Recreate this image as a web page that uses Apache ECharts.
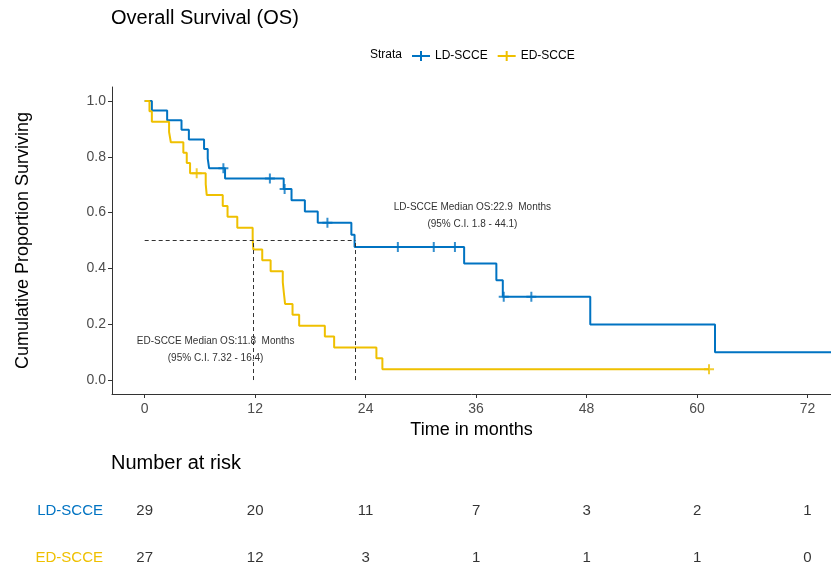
<!DOCTYPE html>
<html>
<head>
<meta charset="utf-8">
<script src="https://cdn.jsdelivr.net/npm/echarts@6/dist/echarts.min.js"></script>
<style>html,body{margin:0;padding:0;background:#fff}#c{width:831px;height:567px}</style>
</head>
<body>
<div id="c"></div>
<script>
// ---- data ----
const groups = ['LD-SCCE', 'ED-SCCE'];
const colors = ['#0073C2', '#EFC000'];
// Kaplan-Meier steps: [time (months), survival]
const ldCurve = [[0,1],[0.78,0.9655],[2.44,0.9310],[4.0,0.8966],[4.8,0.8621],[6.45,0.8276],[6.85,0.7931],[7.0,0.7586],[8.73,0.7225],[15.1,0.6845],[15.95,0.6442],[17.4,0.6040],[18.8,0.5637],[22.45,0.5203],[22.8,0.4770],[34.7,0.4174],[38.2,0.3577],[38.9,0.2981],[48.4,0.1987],[61.95,0.0994],[74.55,0.0994]];
const ldCensor = [[8.55,0.7586],[13.6,0.7225],[15.2,0.6845],[19.85,0.5637],[27.5,0.4770],[31.4,0.4770],[33.7,0.4770],[39.0,0.2981],[42.0,0.2981]];
const edCurve = [[0,1],[0.52,0.9630],[0.78,0.9259],[2.65,0.8889],[2.84,0.8519],[4.2,0.8148],[4.57,0.7778],[4.93,0.7407],[6.63,0.7018],[6.74,0.6628],[8.48,0.6238],[9.0,0.5848],[10.06,0.5458],[11.73,0.5068],[11.8,0.4678],[12.77,0.4288],[13.68,0.3899],[15.0,0.3509],[15.12,0.3119],[15.25,0.2729],[16.06,0.2339],[16.78,0.1949],[19.57,0.1559],[20.58,0.1170],[25.17,0.0780],[25.82,0.0390],[61.3,0.0390]];
const edCensor = [[5.65,0.7407],[61.3,0.0390]];
const medians = [22.9, 11.8]; // LD, ED
const ldMedianText = 'LD-SCCE Median OS:22.9  Months\n(95% C.I. 1.8 - 44.1)';
const edMedianText = 'ED-SCCE Median OS:11.8  Months\n(95% C.I. 7.32 - 16.4)';
const xTicks = [0, 12, 24, 36, 48, 60, 72];
const yTicks = [0, 0.2, 0.4, 0.6, 0.8, 1.0];
const riskLD = [29, 20, 11, 7, 3, 2, 1];
const riskED = [27, 12, 3, 1, 1, 1, 0];

const FONT = 'Liberation Sans, Arial, sans-serif';
const plusPath = 'path://M4,0h2v4h4v2h-4v4h-2v-4h-4v-2h4z';
const legendIcon = 'path://M0,4h18v2h-18z M8,0h2v10h-2z';

const chart = echarts.init(document.getElementById('c'), null, {renderer: 'canvas'});

const maxMed = Math.max.apply(null, medians);
const medianLines = [
  [{coord: [0, 0.5]}, {coord: [maxMed, 0.5]}]
].concat(medians.map(m => [{coord: [m, 0]}, {coord: [m, 0.5]}]));

const riskSeries = [riskLD, riskED].map((arr, gi) => ({
  type: 'scatter', xAxisIndex: 1, yAxisIndex: 1,
  symbolSize: 1, itemStyle: {color: 'transparent'}, silent: true,
  data: arr.map((v, i) => [xTicks[i], gi, v]),
  label: {show: true, position: 'inside', formatter: p => String(p.data[2]),
          fontSize: 15, color: '#000', fontFamily: FONT}
}));

const option = {
  animation: false,
  textStyle: {fontFamily: FONT},
  title: [
    {text: 'Overall Survival (OS)', left: 111, top: 8, padding: 0,
     textStyle: {fontSize: 20, fontWeight: 'normal', color: '#000', fontFamily: FONT}},
    {text: 'Number at risk', left: 111, top: 453, padding: 0,
     textStyle: {fontSize: 20, fontWeight: 'normal', color: '#000', fontFamily: FONT}},
    {text: 'Strata', left: 370, top: 49, padding: 0,
     textStyle: {fontSize: 12, fontWeight: 'normal', color: '#000', fontFamily: FONT}}
  ],
  legend: {
    data: groups, left: 412, top: 50, padding: 0, itemWidth: 18, itemHeight: 10, itemGap: 10,
    icon: legendIcon, textStyle: {fontSize: 12, color: '#000', fontFamily: FONT}
  },
  grid: [
    {left: 112, right: 0, top: 87, bottom: 173, containLabel: false},
    {left: 112, right: 0, top: 486, bottom: 0, containLabel: false}
  ],
  xAxis: [
    {type: 'value', gridIndex: 0, min: -3.55, max: 74.55,
     name: 'Time in months', nameLocation: 'middle', nameGap: 27,
     nameTextStyle: {fontSize: 18, color: '#000', fontFamily: FONT},
     axisLine: {show: true, onZero: false, lineStyle: {color: '#333', width: 1}},
     axisTick: {show: true, length: 4, customValues: xTicks, lineStyle: {color: '#333'}},
     axisLabel: {customValues: xTicks, fontSize: 14, color: '#4d4d4d', margin: 8, fontFamily: FONT},
     splitLine: {show: false}},
    {type: 'value', gridIndex: 1, min: -3.55, max: 74.55, show: false}
  ],
  yAxis: [
    {type: 'value', gridIndex: 0, min: -0.05, max: 1.05,
     name: 'Cumulative Proportion Surviving', nameLocation: 'middle', nameGap: 80,
     nameTextStyle: {fontSize: 18, color: '#000', fontFamily: FONT},
     axisLine: {show: true, onZero: false, lineStyle: {color: '#333', width: 1}},
     axisTick: {show: true, length: 4, customValues: yTicks, lineStyle: {color: '#333'}},
     axisLabel: {customValues: yTicks, fontSize: 14, color: '#4d4d4d', margin: 6, fontFamily: FONT,
                 formatter: v => v.toFixed(1)},
     splitLine: {show: false}},
    {type: 'value', gridIndex: 1, min: -0.543, max: 1.192, inverse: true,
     axisLine: {show: false}, axisTick: {show: false}, splitLine: {show: false},
     axisLabel: {customValues: [0, 1], fontSize: 15, margin: 9, fontFamily: FONT,
                 formatter: v => groups[Math.round(v)] || '',
                 color: v => colors[Math.round(v)] || '#000'}}
  ],
  series: [
    {name: groups[0], type: 'line', step: 'end', data: ldCurve, symbol: 'none',
     lineStyle: {color: colors[0], width: 2}, itemStyle: {color: colors[0]}, z: 3,
     markLine: {silent: true, symbol: 'none', label: {show: false},
       lineStyle: {color: '#333', type: [4, 3], width: 1}, data: medianLines},
     markPoint: {silent: true, symbol: 'circle', symbolSize: 0,
       data: [
         {coord: [35.6, 0.588], label: {show: true, formatter: ldMedianText, fontSize: 10, lineHeight: 17, align: 'center', color: '#333', fontFamily: FONT}},
         {coord: [7.7, 0.11], label: {show: true, formatter: edMedianText, fontSize: 10, lineHeight: 17, align: 'center', color: '#333', fontFamily: FONT}}
       ]}},
    {name: groups[1], type: 'line', step: 'end', data: edCurve, symbol: 'none',
     lineStyle: {color: colors[1], width: 2}, itemStyle: {color: colors[1]}, z: 3},
    {name: 'ldCensor', type: 'scatter', data: ldCensor, symbol: plusPath, symbolSize: 10,
     itemStyle: {color: colors[0]}, z: 4, silent: true},
    {name: 'edCensor', type: 'scatter', data: edCensor, symbol: plusPath, symbolSize: 10,
     itemStyle: {color: colors[1]}, z: 4, silent: true}
  ].concat(riskSeries)
};
chart.setOption(option);
</script>
</body>
</html>
